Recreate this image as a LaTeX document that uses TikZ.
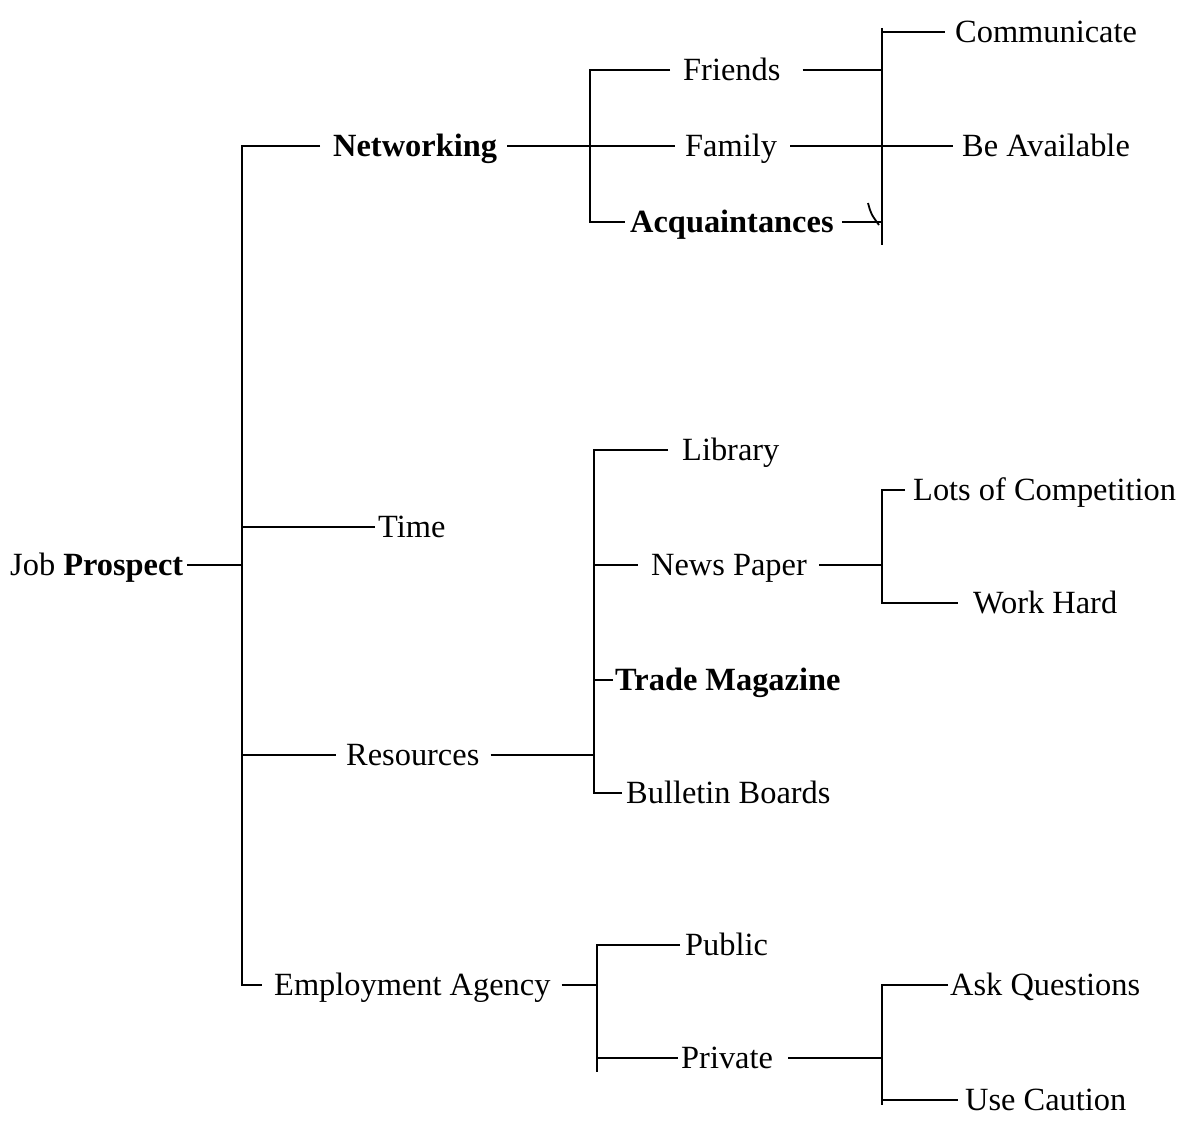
\documentclass[tikz,border=0pt]{standalone}
\usepackage{fontspec}
\setmainfont{Liberation Serif}
\begin{document}
\begin{tikzpicture}[x=1pt,y=-1pt,
  lbl/.style={anchor=west,inner sep=0pt,font=\fontsize{32.4pt}{38pt}\selectfont,text height=21.5pt,text depth=0pt},
  conn/.style={line width=2.8pt,line cap=butt}]
\useasboundingbox (0,0) rectangle (1190,1121);
\fill[white] (0,0) rectangle (1190,1121);
% labels
\node[lbl] (root) at (10,565) {Job \textbf{Prospect}};
\node[lbl] (net) at (333,146) {\textbf{Networking}};
\node[lbl] (time) at (378,527) {Time};
\node[lbl] (res) at (346,755) {Resources};
\node[lbl] (ea) at (274,985) {Employment Agency};
\node[lbl] (fri) at (683,70) {Friends};
\node[lbl] (fam) at (685,146) {Family};
\node[lbl] (acq) at (630,222) {\textbf{Acquaintances}};
\node[lbl] (com) at (955,32) {Communicate};
\node[lbl] (bea) at (962,146) {Be Available};
\node[lbl] (lib) at (682,450) {Library};
\node[lbl] (np) at (651,565) {News Paper};
\node[lbl] (tm) at (615,680) {\textbf{Trade Magazine}};
\node[lbl] (bul) at (626,793) {Bulletin Boards};
\node[lbl] (loc) at (913,490) {Lots of Competition};
\node[lbl] (wh) at (973,603) {Work Hard};
\node[lbl] (pub) at (685,945) {Public};
\node[lbl] (pri) at (681,1058) {Private};
\node[lbl] (aq) at (950,985) {Ask Questions};
\node[lbl] (uc) at (965,1100) {Use Caution};
% bar coordinates
\coordinate (mBar) at (242,0);
\coordinate (nBar) at (590,0);
\coordinate (rBar) at (882,0);
\coordinate (rTop) at (882,28);
\coordinate (rBot) at (882,245);
\coordinate (rsBar) at (594,0);
\coordinate (npBar) at (882,0);
\coordinate (eBar) at (597,0);
\coordinate (eBot) at (597,1072);
\coordinate (pBar) at (882,0);
\coordinate (pBot) at (882,1105);
% main tree
\draw[conn] ([xshift=-13pt]net.west) -| (mBar |- ea.west) -- ([xshift=-12pt]ea.west);
\draw[conn] ([xshift=4pt]root.east) -- (mBar |- root.east);
\draw[conn] (mBar |- time.west) -- ([xshift=-3pt]time.west);
\draw[conn] (mBar |- res.west) -- ([xshift=-10pt]res.west);
% networking
\draw[conn] ([xshift=-13pt]fri.west) -| (nBar |- acq.west) -- ([xshift=-5pt]acq.west);
\draw[conn] ([xshift=10pt]net.east) -- (nBar |- net.east);
\draw[conn] (nBar |- fam.west) -- ([xshift=-10pt]fam.west);
\draw[conn] (rTop) -- (rBot);
\draw[conn] (rBar |- com.west) -- ([xshift=-10pt]com.west);
\draw[conn] ([xshift=22pt]fri.east) -- (rBar |- fri.east);
\draw[conn] ([xshift=13pt]fam.east) -- (rBar |- fam.east);
\draw[conn] ([xshift=8pt]acq.east) -- (rBar |- acq.east);
\draw[conn] (rBar |- bea.west) -- ([xshift=-9pt]bea.west);
\draw[line width=1.8pt] (868,203) .. controls (871,214) .. (879,225);
% resources
\draw[conn] ([xshift=-14pt]lib.west) -| (rsBar |- bul.west) -- ([xshift=-4pt]bul.west);
\draw[conn] ([xshift=11pt]res.east) -- (rsBar |- res.east);
\draw[conn] (rsBar |- np.west) -- ([xshift=-13pt]np.west);
\draw[conn] (rsBar |- tm.west) -- ([xshift=-2pt]tm.west);
\draw[conn] ([xshift=-8pt]loc.west) -| (npBar |- wh.west) -- ([xshift=-15pt]wh.west);
\draw[conn] ([xshift=12pt]np.east) -- (npBar |- np.east);
% employment agency
\draw[conn] ([xshift=-5pt]pub.west) -| (eBot);
\draw[conn] (eBar |- pri.west) -- ([xshift=-3pt]pri.west);
\draw[conn] ([xshift=11pt]ea.east) -- (eBar |- ea.east);
\draw[conn] ([xshift=-2pt]aq.west) -| (pBot);
\draw[conn] (pBar |- uc.west) -- ([xshift=-7pt]uc.west);
\draw[conn] ([xshift=15pt]pri.east) -- (pBar |- pri.east);
\end{tikzpicture}
\end{document}
